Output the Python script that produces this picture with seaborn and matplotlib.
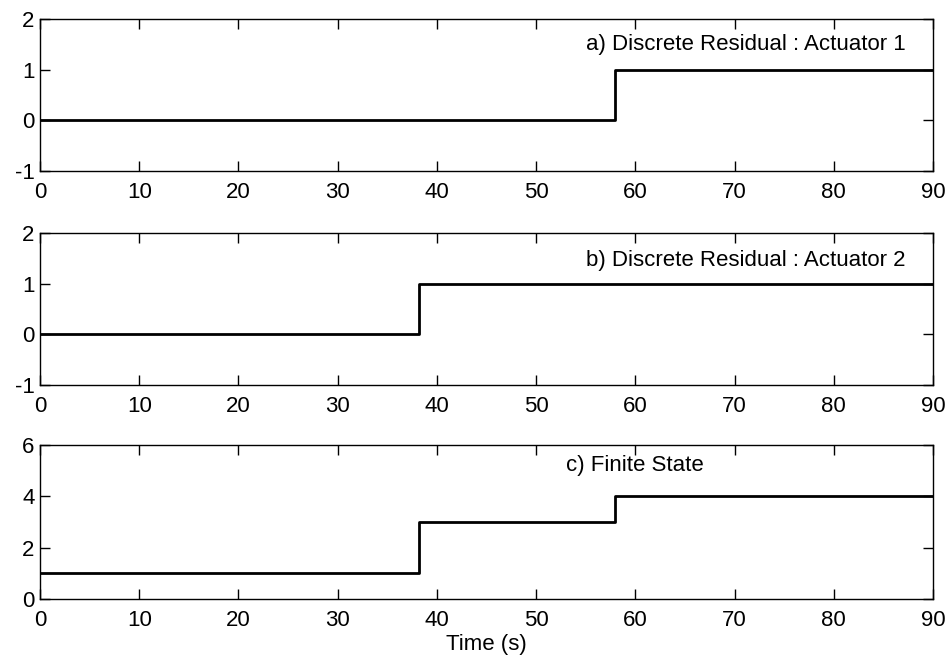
import matplotlib
matplotlib.use("Agg")
import matplotlib.pyplot as plt
import seaborn as sns
import pandas as pd

sns.set_theme(style="ticks")
plt.rcParams["font.family"] = ["Liberation Sans", "DejaVu Sans"]
plt.rcParams["axes.unicode_minus"] = False
plt.rcParams["text.color"] = "black"
plt.rcParams["axes.labelcolor"] = "black"

# step signals: value holds from each time until the next one
time_a = [0, 58, 90]
resid_a = [0, 1, 1]
time_b = [0, 38.2, 90]
resid_b = [0, 1, 1]
time_c = [0, 38.2, 58, 90]
state_c = [1, 3, 4, 4]

titles = ["a) Discrete Residual : Actuator 1",
          "b) Discrete Residual : Actuator 2",
          "c) Finite State"]
x_ticks = [0, 10, 20, 30, 40, 50, 60, 70, 80, 90]

fig = plt.figure(figsize=(9.51, 6.6), dpi=100)
W, H = 951, 660
boxes = [(40, 19, 933, 171), (40, 233, 933, 385), (40, 445, 933, 599)]
axes = [fig.add_axes([l / W, 1 - b / H, (r - l) / W, (b - t) / H]) for l, t, r, b in boxes]

series = [(time_a, resid_a), (time_b, resid_b), (time_c, state_c)]
ylims = [(-1, 2), (-1, 2), (0, 6)]
yticks = [[-1, 0, 1, 2], [-1, 0, 1, 2], [0, 2, 4, 6]]
text_pos = [(55, 1.5), (55, 1.45), (53, 5.2)]

for ax, (t, v), yl, yt, title, tp in zip(axes, series, ylims, yticks, titles, text_pos):
    df = pd.DataFrame({"t": t, "v": v})
    sns.lineplot(data=df, x="t", y="v", ax=ax, color="black", linewidth=2,
                 drawstyle="steps-post", legend=False)
    ax.set_xlim(0, 90)
    ax.set_ylim(*yl)
    ax.set_xticks(x_ticks)
    ax.set_yticks(yt)
    ax.set_xlabel("")
    ax.set_ylabel("")
    ax.tick_params(direction="in", top=True, right=True, length=7, width=1,
                   labelsize=16, colors="black")
    ax.tick_params(axis="x", pad=8)
    ax.tick_params(axis="y", pad=4)
    for s in ax.spines.values():
        s.set_visible(True)
        s.set_linewidth(1)
        s.set_color("black")
    ax.text(tp[0], tp[1], title, fontsize=16, va="center", ha="left")

axes[2].set_xlabel("Time (s)", fontsize=16, labelpad=2)

fig.savefig("out.png", dpi=100)
